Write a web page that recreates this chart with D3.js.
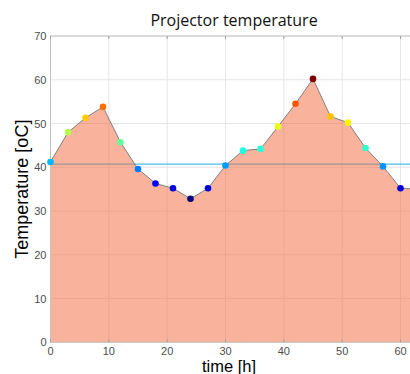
<!DOCTYPE html>
<html>
<head>
<meta charset="utf-8">
<script src="https://cdn.jsdelivr.net/npm/d3@7"></script>
<style>
  body { margin: 0; background: #fff; }
  svg { display: block; }
</style>
</head>
<body>
<script>
// time in hours, temperature in degC
var hours = [0, 3, 6, 9, 12, 15, 18, 21, 24, 27, 30, 33, 36, 39, 42, 45, 48, 51, 54, 57, 60, 63];
var temps = [41.2, 48.0, 51.3, 53.8, 45.7, 39.6, 36.3, 35.2, 32.8, 35.2, 40.4, 43.8,
             44.2, 49.3, 54.5, 60.2, 51.6, 50.2, 44.4, 40.2, 35.2, 35.0];
var refLevel = 40.7;
var xTicks = [0, 10, 20, 30, 40, 50, 60];
var yTicks = [0, 10, 20, 30, 40, 50, 60, 70];

var W = 410, H = 374;
var m = {left: 50.5, right: 418, top: 36, bottom: 342.3};

var svg = d3.select("body").append("svg")
	.attr("width", W)
	.attr("height", H);

var x = d3.scaleLinear().domain([0, 63]).range([m.left, m.right]);
var y = d3.scaleLinear().domain([0, 70]).range([m.bottom, m.top]);

// jet colormap, like matlab
function jet(t) {
	function c(v) { return Math.max(0, Math.min(1, v)); }
	var r = c(1.5 - Math.abs(4 * t - 3));
	var g = c(1.5 - Math.abs(4 * t - 2));
	var b = c(1.5 - Math.abs(4 * t - 1));
	return d3.rgb(r * 255, g * 255, b * 255).toString();
}
var tMin = d3.min(temps), tMax = d3.max(temps);
function colorOf(v) { return jet((v - tMin) / (tMax - tMin)); }

var pts = hours.map(function(h, i) { return [h, temps[i]]; });

// grid
var g = svg.append("g");
g.selectAll(".gx").data(xTicks).enter().append("line")
	.attr("x1", function(d) { return x(d); })
	.attr("x2", function(d) { return x(d); })
	.attr("y1", m.top).attr("y2", m.bottom)
	.attr("stroke", "#e6e6e6").attr("stroke-width", 1);
g.selectAll(".gy").data(yTicks).enter().append("line")
	.attr("y1", function(d) { return y(d); })
	.attr("y2", function(d) { return y(d); })
	.attr("x1", m.left).attr("x2", m.right)
	.attr("stroke", "#e6e6e6").attr("stroke-width", 1);

// reference level
svg.append("line")
	.attr("x1", x(0)).attr("x2", m.right)
	.attr("y1", y(refLevel)).attr("y2", y(refLevel))
	.attr("stroke", "#4dbeee").attr("stroke-width", 1.2);

// area
var area = d3.area()
	.x(function(d) { return x(d[0]); })
	.y0(y(0))
	.y1(function(d) { return y(d[1]); });
svg.append("path")
	.datum(pts)
	.attr("d", area)
	.attr("fill", "#f4683c")
	.attr("fill-opacity", 0.5);

var line = d3.line()
	.x(function(d) { return x(d[0]); })
	.y(function(d) { return y(d[1]); });
svg.append("path")
	.datum(pts)
	.attr("d", line)
	.attr("fill", "none")
	.attr("stroke", "#808080")
	.attr("stroke-width", 1);

// axes box
var axCol = "#c4c4c4";
svg.append("rect")
	.attr("x", m.left).attr("y", m.top)
	.attr("width", m.right - m.left).attr("height", m.bottom - m.top)
	.attr("fill", "none").attr("stroke", axCol).attr("stroke-width", 1);

// ticks inside, top and bottom
xTicks.forEach(function(d) {
	svg.append("line").attr("x1", x(d)).attr("x2", x(d))
		.attr("y1", m.bottom).attr("y2", m.bottom - 3).attr("stroke", "#a0a0a0");
	svg.append("line").attr("x1", x(d)).attr("x2", x(d))
		.attr("y1", m.top).attr("y2", m.top + 3).attr("stroke", "#a0a0a0");
});

// markers
svg.selectAll(".dot").data(pts).enter().append("circle")
	.attr("cx", function(d) { return x(d[0]); })
	.attr("cy", function(d) { return y(d[1]); })
	.attr("r", 3.3)
	.attr("fill", function(d) { return colorOf(d[1]); });

// tick labels
var tf = "'Liberation Sans', Arial, sans-serif";
svg.selectAll(".xl").data(xTicks).enter().append("text")
	.attr("x", function(d) { return x(d); })
	.attr("y", m.bottom + 12.5)
	.attr("text-anchor", "middle")
	.attr("font-family", tf).attr("font-size", 11)
	.attr("fill", "#4d4d4d")
	.text(function(d) { return d; });
svg.selectAll(".yl").data(yTicks).enter().append("text")
	.attr("x", m.left - 4)
	.attr("y", function(d) { return y(d) + 4; })
	.attr("text-anchor", "end")
	.attr("font-family", tf).attr("font-size", 11)
	.attr("fill", "#4d4d4d")
	.text(function(d) { return d; });

// titles
svg.append("text")
	.attr("x", 234).attr("y", 26)
	.attr("text-anchor", "middle")
	.attr("font-family", "'Open Sans', 'Noto Sans', sans-serif")
	.attr("font-size", 16)
	.attr("fill", "#111")
	.text("Projector temperature");

svg.append("text")
	.attr("x", 229).attr("y", 372)
	.attr("text-anchor", "middle")
	.attr("font-family", tf).attr("font-size", 16.5)
	.attr("fill", "#000")
	.text("time [h]");

svg.append("text")
	.attr("transform", "translate(28," + ((m.top + m.bottom) / 2) + ") rotate(-90)")
	.attr("text-anchor", "middle")
	.attr("font-family", tf).attr("font-size", 18)
	.attr("fill", "#000")
	.text("Temperature [oC]");
</script>
</body>
</html>
